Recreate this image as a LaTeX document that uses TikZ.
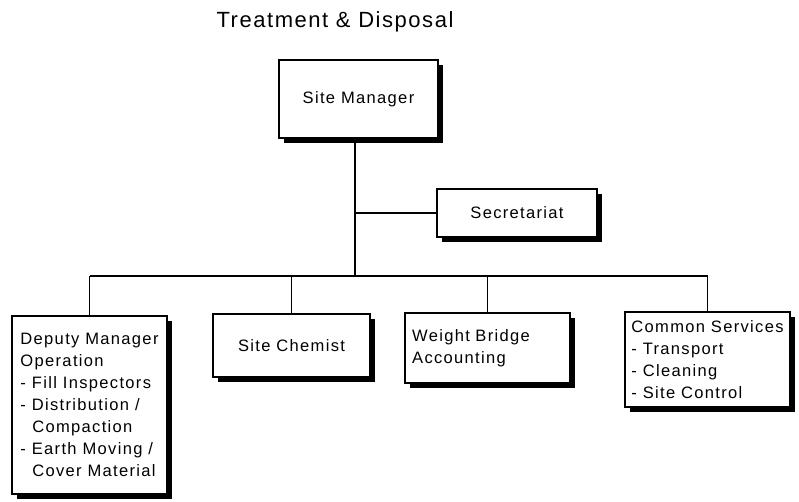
\documentclass[tikz,border=0pt]{standalone}
\usepackage{fontspec}
\setmainfont{Liberation Sans}
\newfontfamily\boxfont[LetterSpace=8]{Liberation Sans}
\newfontfamily\titlefont[LetterSpace=7]{Liberation Sans}
\usetikzlibrary{shadows}
\begin{document}
\begin{tikzpicture}[x=0.75pt,y=-0.75pt,
  orgbox/.style={draw, line width=1.2pt, fill=white, inner sep=0pt,
    drop shadow={shadow xshift=3.5pt, shadow yshift=-3.5pt, fill=black, opacity=1},
    font=\boxfont\fontsize{12.4}{16.5}\selectfont},
  link/.style={line width=0.8pt},
  trunk/.style={line width=1.5pt}]
\useasboundingbox (0,0) rectangle (799,502);
\node[font=\titlefont\fontsize{16.5}{20}\selectfont] (title) at (335,22) {Treatment \& Disposal};
\node[orgbox, minimum width=119.25pt, minimum height=58.5pt] (sm) at (358.5,99) {Site Manager};
\node[orgbox, minimum width=120pt, minimum height=36pt] (sec) at (517,213) {Secretariat};
\node[orgbox, minimum width=116.25pt, minimum height=133.5pt, align=left] (dep) at (89.5,405)
  {Deputy Manager\\Operation\\- Fill Inspectors\\- Distribution /\\\ \ Compaction\\- Earth Moving /\\\ \ Cover Material};
\node[orgbox, minimum width=117.75pt, minimum height=47.25pt] (chem) at (291.5,345.5) {Site Chemist};
\node[orgbox, minimum width=123.75pt, minimum height=52.5pt, text width=113pt, align=left] (wb) at (487.5,348) {Weight Bridge\\Accounting};
\node[orgbox, minimum width=123.75pt, minimum height=71.25pt, align=left] (cs) at (707.5,359.5)
  {Common Services\\- Transport\\- Cleaning\\- Site Control};
\coordinate (bus) at (355,276);
\draw[trunk] (sm.south -| bus) -- (bus);
\draw[link] (sec.west) -- (sec.west -| bus);
\draw[link] (dep.north |- bus) -- (cs.north |- bus);
\draw[link] (dep.north) -- (dep.north |- bus);
\draw[link] (chem.north) -- (chem.north |- bus);
\draw[link] (wb.north) -- (wb.north |- bus);
\draw[link] (cs.north) -- (cs.north |- bus);
\end{tikzpicture}
\end{document}
